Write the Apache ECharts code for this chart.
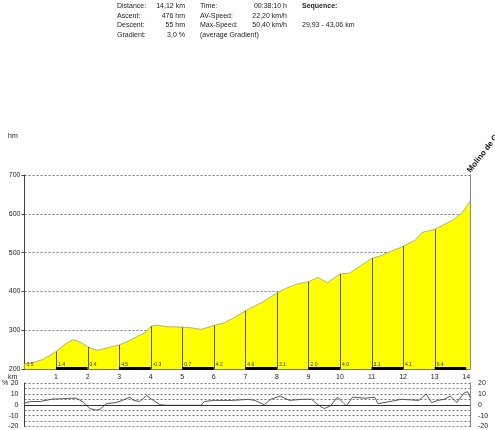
<!DOCTYPE html>
<html>
<head>
<meta charset="utf-8">
<script src="https://cdn.jsdelivr.net/npm/echarts@6/dist/echarts.min.js"></script>
<style>
  html, body { margin: 0; padding: 0; background: #fff; }
  #chart { width: 495px; height: 430px; }
</style>
</head>
<body>
<div id="chart"></div>
<script>
// elevation profile (km, hm)
var profileKm = [0,0.3,0.6,1.0,1.3,1.55,1.8,2.0,2.3,2.6,3.0,3.3,3.6,3.85,4.0,4.2,4.5,5.0,5.3,5.6,6.0,6.3,6.6,7.0,7.3,7.6,8.0,8.3,8.6,9.0,9.3,9.6,10.0,10.3,10.6,11.0,11.3,11.6,12.0,12.4,12.6,13.0,13.3,13.6,13.9,14.12];
var profileHm = [213,217,225,245,265,276,268,257,248,254,262,272,285,295,310,313,309,308,306,302,312,318,330,350,362,375,396,408,418,425,436,422,445,447,463,485,492,503,516,533,552,560,572,585,605,632];

// height where each km marker line stops (km 1..13)
var kmMarks = [1,2,3,4,5,6,7,8,9,10,11,12,13];
var kmMarkHm = [245,257,262,310,308,312,350,396,425,445,485,516,560];

// average gradient of each km
var segLabels = ['3.5','1.4','0.4','4.5','-0.3','0.7','4.2','4.6','3.1','2.0','4.0','3.1','4.1','6.4'];

// gradient curve (km, %)
var gradKm = [0,0.2,0.5,0.9,1.2,1.45,1.65,1.86,2.07,2.28,2.4,2.6,2.9,3.1,3.34,3.45,3.65,3.87,4.08,4.29,4.5,5.0,5.6,5.7,6.0,6.2,6.6,7.1,7.3,7.6,7.8,8.1,8.4,8.8,9.1,9.3,9.5,9.7,9.92,10.1,10.2,10.4,10.8,11.1,11.2,11.5,11.94,12.5,12.73,12.9,13.1,13.3,13.5,13.7,13.94,14.04,14.12];
var gradPct = [1.5,3,3,5.3,5.5,6,6,2.5,-3.5,-5,-4,1,2,4,7,4,3,8.5,4,0,-0.5,-0.5,-0.5,3,4,4,4,5,4,0,5,8,4,5,5,0,-3.5,-1,7,2,-1,7,6,7,1,2.5,5,4,10,2,4,5,8,2,11,12,7];

// header
var infoRows = [
	['Distance:', '14,12 km', 'Time:', '00:38:10 h', 'Sequence:'],
	['Ascent:', '476 hm', 'AV-Speed:', '22,20 km/h', ''],
	['Descent:', '55 hm', 'Max-Speed:', '50,40 km/h', '29,93 - 43,06 km'],
	['Gradient:', '3,0 %', '(average Gradient)', '', '']
];

var FONT = 'Liberation Sans, Arial, sans-serif';
var TXT = '#222';

function pairs(xs, ys) {
	var out = [];
	for (var i = 0; i < xs.length; i++) out.push([xs[i], ys[i]]);
	return out;
}

var graphics = [];
var rowY = [6, 16, 25.5, 35];
var colX = [117, 185, 200, 287, 302];
var colAlign = ['left', 'right', 'left', 'right', 'left'];
infoRows.forEach(function(row, r) {
	row.forEach(function(t, c) {
		if (!t) return;
		graphics.push({
			type: 'text',
			style: {
				x: colX[c], y: rowY[r], text: t, fill: TXT,
				font: (r == 0 && c == 4 ? 'bold ' : '') + '7px ' + FONT,
				textAlign: colAlign[c], textVerticalAlign: 'middle'
			}
		});
	});
});
graphics.push({type: 'text', style: {x: 8, y: 136, text: 'hm', fill: TXT, font: '7px ' + FONT, textVerticalAlign: 'middle'}});
graphics.push({type: 'text', style: {x: 8, y: 377, text: 'km', fill: TXT, font: '7px ' + FONT, textVerticalAlign: 'middle'}});
graphics.push({type: 'text', style: {x: 2, y: 383, text: '%', fill: TXT, font: '7px ' + FONT, textVerticalAlign: 'middle'}});
// place name at the end of the profile, running off the edge
graphics.push({
	type: 'text', x: 472, y: 174, rotation: 0.91,
	style: {x: 0, y: 0, text: 'Molino de Ga', fill: '#111', font: 'bold 8px ' + FONT, textAlign: 'left', textVerticalAlign: 'bottom'}
});

var chart = echarts.init(document.getElementById('chart'), null, {renderer: 'canvas'});

var intOnly = function(v) { return Math.abs(v - Math.round(v)) > 1e-6 || v == 0 ? '' : v; };

var option = {
	animation: false,
	backgroundColor: '#fff',
	graphic: graphics,
	grid: [
		{left: 24.5, right: 25, top: 175, height: 194},
		{left: 24.5, right: 25, top: 383, height: 45}
	],
	xAxis: [
		{
			gridIndex: 0, type: 'value', min: 0, max: 14.12, interval: 1,
			axisLine: {show: true, lineStyle: {color: '#777', width: 1}},
			axisTick: {show: false},
			axisLabel: {fontSize: 7, fontFamily: FONT, color: TXT, margin: 5, formatter: intOnly, showMaxLabel: false},
			splitLine: {show: false}
		},
		{
			gridIndex: 1, type: 'value', min: 0, max: 14.12, interval: 1,
			axisLine: {show: false}, axisTick: {show: false}, axisLabel: {show: false},
			splitLine: {show: false}
		}
	],
	yAxis: [
		{
			gridIndex: 0, type: 'value', min: 200, max: 700, interval: 100,
			axisLine: {show: true, lineStyle: {color: '#444'}},
			axisTick: {show: true, length: 3, lineStyle: {color: '#444'}},
			axisLabel: {fontSize: 7, fontFamily: FONT, color: TXT, margin: 4},
			splitLine: {show: true, lineStyle: {color: '#777', type: [2, 2], width: 1}}
		},
		{
			gridIndex: 0, type: 'value', position: 'right', min: 200, max: 700, interval: 100,
			axisLine: {show: true, lineStyle: {color: '#888'}},
			axisTick: {show: false}, axisLabel: {show: false}, splitLine: {show: false}
		},
		{
			gridIndex: 1, type: 'value', min: -20, max: 20, interval: 5,
			axisLine: {show: true, lineStyle: {color: '#444'}},
			axisTick: {show: false},
			axisLabel: {fontSize: 7, fontFamily: FONT, color: TXT, margin: 6,
				formatter: function(v) { return v % 10 == 0 ? v : ''; }},
			splitLine: {show: true, lineStyle: {color: '#777', type: [2, 2], width: 1}}
		},
		{
			gridIndex: 1, type: 'value', position: 'right', min: -20, max: 20, interval: 5,
			axisLine: {show: true, lineStyle: {color: '#888'}},
			axisTick: {show: false},
			axisLabel: {fontSize: 7, fontFamily: FONT, color: TXT, margin: 8,
				formatter: function(v) { return v % 10 == 0 ? v : ''; }},
			splitLine: {show: false}
		}
	],
	series: [
		{
			// elevation
			type: 'line', xAxisIndex: 0, yAxisIndex: 0,
			data: pairs(profileKm, profileHm),
			showSymbol: false, smooth: false,
			lineStyle: {color: '#b4b46a', width: 1},
			areaStyle: {color: '#ffff00', opacity: 1},
			z: 2
		},
		{
			// km marker lines inside the profile
			type: 'custom', xAxisIndex: 0, yAxisIndex: 0,
			data: pairs(kmMarks, kmMarkHm),
			renderItem: function(params, api) {
				var p0 = api.coord([api.value(0), 200]);
				var p1 = api.coord([api.value(0), api.value(1)]);
				return {type: 'line', shape: {x1: Math.round(p0[0]) + 0.5, y1: p0[1], x2: Math.round(p0[0]) + 0.5, y2: p1[1]},
					style: {stroke: '#555', lineWidth: 1}};
			},
			z: 3
		},
		{
			// per km gradient labels and alternating black bars
			type: 'custom', xAxisIndex: 0, yAxisIndex: 0,
			data: segLabels.map(function(t, i) { return [i, i + 1, t]; }),
			renderItem: function(params, api) {
				var i = params.dataIndex;
				var a = api.coord([api.value(0), 200]);
				var b = api.coord([api.value(1), 200]);
				var children = [{
					type: 'text',
					style: {x: a[0] + 2, y: a[1] - 2, text: segLabels[i], fill: '#333', font: '5px ' + FONT, textVerticalAlign: 'bottom'}
				}];
				if (i % 2 == 1) {
					children.push({type: 'rect', shape: {x: a[0], y: a[1] - 2, width: b[0] - a[0], height: 3}, style: {fill: '#000'}});
				}
				return {type: 'group', children: children};
			},
			z: 4
		},
		{
			// gradient
			type: 'line', xAxisIndex: 1, yAxisIndex: 2,
			data: pairs(gradKm, gradPct),
			showSymbol: false,
			lineStyle: {color: '#555', width: 1},
			markLine: {
				silent: true, symbol: 'none', label: {show: false},
				lineStyle: {color: '#333', type: 'solid', width: 1},
				data: [{yAxis: 0}]
			}
		}
	]
};

chart.setOption(option);
</script>
</body>
</html>
